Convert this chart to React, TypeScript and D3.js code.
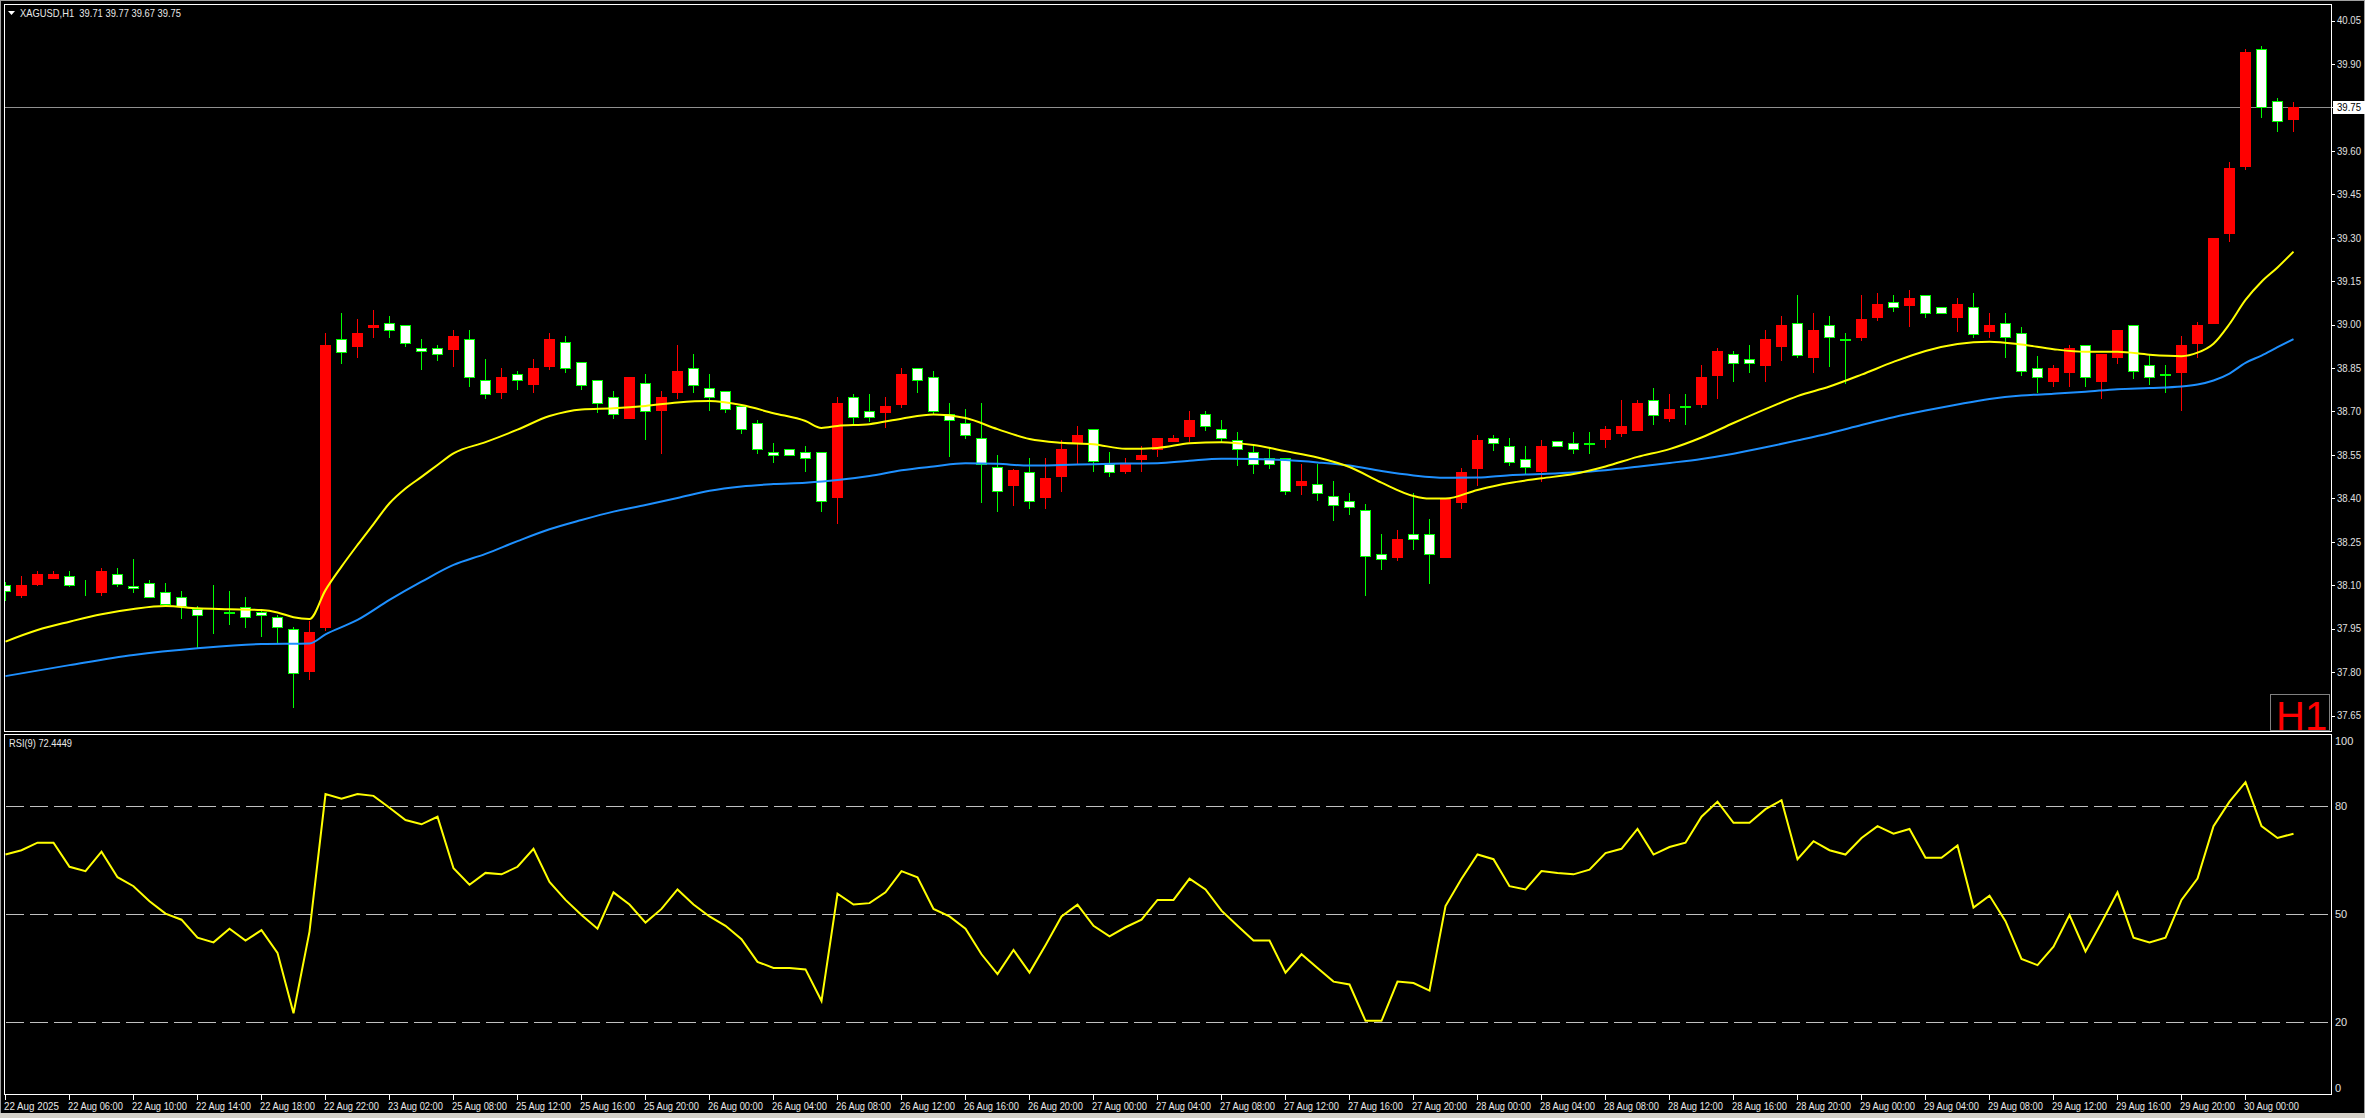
import React from 'react';
import * as d3 from 'd3';

const W = 2365;
const H = 1118;

const opens = [38.100,38.065,38.105,38.126,38.130,38.090,38.076,38.138,38.098,38.106,38.078,38.058,38.018,37.990,38.006,38.026,38.006,37.989,37.947,37.804,37.957,38.949,38.927,38.990,39.007,38.997,38.918,38.918,38.915,38.949,38.807,38.768,38.828,38.796,38.857,38.939,38.870,38.807,38.749,38.678,38.797,38.706,38.768,38.849,38.780,38.769,38.718,38.659,38.559,38.569,38.559,38.559,38.406,38.749,38.700,38.699,38.727,38.849,38.818,38.690,38.659,38.607,38.507,38.446,38.490,38.406,38.478,38.592,38.638,38.518,38.495,38.537,38.570,38.599,38.616,38.690,38.638,38.600,38.559,38.538,38.538,38.447,38.448,38.407,38.390,38.358,38.206,38.198,38.278,38.278,38.198,38.387,38.505,38.607,38.579,38.537,38.494,38.599,38.590,38.590,38.606,38.625,38.636,38.738,38.678,38.718,38.727,38.826,38.897,38.880,38.859,38.926,39.007,38.888,38.997,38.949,38.957,39.027,39.079,39.068,39.101,39.059,39.027,39.059,38.979,39.007,38.970,38.849,38.806,38.837,38.928,38.806,38.889,38.997,38.859,38.828,38.837,38.936,39.006,39.317,39.548,39.950,39.771,39.710];
const highs = [38.110,38.130,38.150,38.150,38.150,38.118,38.158,38.158,38.190,38.118,38.106,38.080,38.028,38.100,38.080,38.059,38.018,37.996,37.957,37.977,38.972,39.041,39.019,39.050,39.029,38.997,38.950,38.929,38.981,38.981,38.881,38.850,38.839,38.881,38.970,38.960,38.870,38.807,38.770,38.818,38.829,38.770,38.929,38.898,38.829,38.769,38.718,38.670,38.591,38.569,38.580,38.559,38.750,38.760,38.760,38.750,38.850,38.849,38.840,38.729,38.708,38.729,38.549,38.500,38.539,38.539,38.601,38.650,38.638,38.560,38.539,38.580,38.608,38.618,38.701,38.701,38.670,38.629,38.580,38.570,38.538,38.518,38.518,38.460,38.418,38.380,38.278,38.290,38.417,38.328,38.397,38.506,38.618,38.618,38.607,38.579,38.601,38.599,38.629,38.629,38.650,38.739,38.739,38.780,38.760,38.760,38.860,38.919,38.908,38.929,38.981,39.029,39.102,39.040,39.029,38.970,39.102,39.109,39.102,39.119,39.101,39.059,39.093,39.110,39.039,39.039,38.990,38.891,38.860,38.929,38.928,38.898,38.981,38.997,38.894,38.860,38.960,39.009,39.299,39.561,39.951,39.962,39.782,39.770];
const lows = [38.050,38.060,38.100,38.125,38.097,38.066,38.066,38.098,38.077,38.058,38.028,37.987,37.884,37.936,37.967,37.957,37.925,37.901,37.678,37.776,37.945,38.868,38.889,38.958,38.958,38.927,38.846,38.877,38.858,38.789,38.747,38.747,38.778,38.768,38.846,38.837,38.778,38.699,38.678,38.678,38.606,38.557,38.747,38.768,38.706,38.699,38.626,38.557,38.526,38.548,38.495,38.357,38.316,38.656,38.668,38.647,38.716,38.768,38.691,38.547,38.607,38.388,38.357,38.377,38.366,38.367,38.425,38.521,38.494,38.478,38.488,38.495,38.547,38.599,38.599,38.637,38.595,38.516,38.488,38.506,38.416,38.416,38.395,38.326,38.347,38.067,38.157,38.188,38.226,38.107,38.198,38.367,38.447,38.568,38.516,38.488,38.460,38.579,38.557,38.557,38.577,38.616,38.636,38.657,38.668,38.657,38.716,38.747,38.805,38.836,38.805,38.877,38.888,38.836,38.857,38.797,38.947,39.017,39.048,38.996,39.027,39.039,38.979,38.958,38.958,38.889,38.827,38.768,38.789,38.789,38.789,38.747,38.868,38.816,38.794,38.768,38.705,38.889,39.006,39.290,39.538,39.718,39.669,39.670];
const closes = [38.080,38.100,38.140,38.140,38.100,38.089,38.149,38.105,38.089,38.058,38.035,38.028,37.996,37.989,38.005,37.989,37.996,37.957,37.796,37.938,38.929,38.906,38.970,38.998,38.980,38.937,38.909,38.897,38.960,38.818,38.759,38.818,38.807,38.850,38.950,38.849,38.790,38.728,38.690,38.818,38.700,38.749,38.840,38.790,38.749,38.707,38.638,38.569,38.548,38.548,38.538,38.390,38.729,38.680,38.680,38.719,38.829,38.807,38.700,38.669,38.617,38.517,38.426,38.498,38.390,38.470,38.570,38.618,38.528,38.490,38.518,38.549,38.608,38.608,38.670,38.649,38.607,38.569,38.517,38.517,38.426,38.460,38.417,38.378,38.369,38.200,38.189,38.259,38.258,38.206,38.397,38.490,38.601,38.590,38.526,38.507,38.580,38.579,38.569,38.589,38.638,38.650,38.729,38.689,38.708,38.717,38.819,38.908,38.868,38.868,38.950,38.998,38.896,38.981,38.958,38.948,39.018,39.071,39.059,39.090,39.039,39.039,39.070,38.968,38.998,38.958,38.838,38.818,38.849,38.918,38.818,38.898,38.981,38.838,38.818,38.827,38.928,38.998,39.299,39.540,39.941,39.750,39.702,39.750];

const maFastIdx = [0,2,4,6,8,10,12,14,16,17,18,19,20,21,22,23,24,25,26,27,28,30,32,34,36,38,40,42,44,46,48,50,51,52,54,56,58,60,62,64,66,68,70,72,74,76,78,80,82,84,86,88,89,90,92,94,96,98,100,102,104,106,108,110,112,114,116,118,120,122,124,126,128,130,132,134,136,137,138,139,140,141,142,143];
const maFast = [37.905,37.945,37.974,38.000,38.018,38.028,38.020,38.017,38.014,38.006,37.989,37.983,38.083,38.164,38.239,38.311,38.383,38.434,38.474,38.515,38.555,38.594,38.637,38.684,38.707,38.711,38.719,38.731,38.736,38.722,38.694,38.667,38.643,38.650,38.656,38.675,38.689,38.677,38.639,38.605,38.592,38.587,38.571,38.574,38.590,38.594,38.584,38.563,38.541,38.508,38.454,38.408,38.399,38.399,38.429,38.453,38.469,38.484,38.510,38.543,38.570,38.610,38.660,38.708,38.753,38.786,38.827,38.871,38.909,38.933,38.941,38.931,38.915,38.906,38.906,38.896,38.891,38.903,38.934,39.002,39.085,39.148,39.197,39.252];
const maSlowIdx = [0,4,8,12,16,19,20,22,24,26,28,30,32,34,36,38,40,42,44,46,48,50,52,54,56,58,60,62,64,66,68,70,72,74,76,78,80,82,84,86,88,90,92,94,96,98,100,102,104,106,108,110,112,114,116,118,120,122,124,126,128,130,132,134,136,137,138,139,140,141,142,143];
const maSlow = [37.786,37.824,37.859,37.882,37.897,37.899,37.930,37.980,38.049,38.112,38.170,38.208,38.252,38.293,38.325,38.354,38.377,38.401,38.426,38.441,38.449,38.454,38.463,38.477,38.497,38.510,38.521,38.519,38.513,38.515,38.518,38.520,38.521,38.530,38.537,38.536,38.532,38.524,38.513,38.494,38.479,38.471,38.472,38.480,38.484,38.489,38.497,38.509,38.522,38.536,38.554,38.576,38.600,38.625,38.653,38.680,38.703,38.724,38.743,38.755,38.761,38.768,38.777,38.781,38.786,38.793,38.807,38.831,38.868,38.893,38.922,38.950];

const rsiValues = [66.6,67.8,69.9,69.9,63.2,62.0,67.4,60.3,57.8,53.6,50.2,48.5,43.5,42.2,46.0,42.7,45.6,39.3,22.5,45.2,83.4,82.1,83.4,82.9,79.6,76.2,75.0,77.1,62.8,58.2,61.5,61.1,63.2,68.2,59.0,54.0,49.8,46.0,56.1,52.7,47.7,51.5,56.9,52.7,49.4,46.8,43.1,36.8,35.1,35.1,34.7,25.9,55.7,52.7,53.1,56.1,62.0,60.3,51.5,49.4,46.0,38.9,33.4,40.1,33.8,41.4,49.4,52.7,46.8,43.9,46.4,48.5,54.0,54.0,59.9,56.9,51.0,46.8,42.7,42.7,33.8,38.9,35.1,31.3,30.5,20.4,20.4,31.3,30.9,28.8,52.3,59.9,66.6,65.3,57.8,56.9,62.0,61.5,61.1,62.4,67.0,68.2,73.7,66.6,68.7,69.9,77.1,81.3,75.4,75.4,79.2,81.7,65.3,70.3,67.8,66.6,71.2,74.5,72.4,73.7,65.7,65.7,69.1,51.9,55.2,48.1,37.6,35.9,41.0,49.8,39.7,47.7,56.1,43.5,42.2,43.5,54.0,59.9,74.5,81.3,86.7,74.5,71.2,72.4];

const priceTicks = [40.05,39.90,39.75,39.60,39.45,39.30,39.15,39.00,38.85,38.70,38.55,38.40,38.25,38.10,37.95,37.80,37.65];
const rsiLevels = [80, 50, 20];
const rsiTickLabels = ['100', '80', '50', '20', '0'];
const rsiTickValues = [100, 80, 50, 20, 0];
const timeLabels = ['22 Aug 2025','22 Aug 06:00','22 Aug 10:00','22 Aug 14:00','22 Aug 18:00','22 Aug 22:00','23 Aug 02:00','25 Aug 08:00','25 Aug 12:00','25 Aug 16:00','25 Aug 20:00','26 Aug 00:00','26 Aug 04:00','26 Aug 08:00','26 Aug 12:00','26 Aug 16:00','26 Aug 20:00','27 Aug 00:00','27 Aug 04:00','27 Aug 08:00','27 Aug 12:00','27 Aug 16:00','27 Aug 20:00','28 Aug 00:00','28 Aug 04:00','28 Aug 08:00','28 Aug 12:00','28 Aug 16:00','28 Aug 20:00','29 Aug 00:00','29 Aug 04:00','29 Aug 08:00','29 Aug 12:00','29 Aug 16:00','29 Aug 20:00','30 Aug 00:00'];
const headerText = 'XAGUSD,H1  39.71 39.77 39.67 39.75';
const rsiText = 'RSI(9) 72.4449';
const lastPrice = 39.75;

const FONT = '"Liberation Sans", Arial, sans-serif';

export default function App() {
  const n = opens.length;
  const x = d3.scaleLinear().domain([0, n - 1]).range([5, 5 + 16 * (n - 1)]);
  const y = d3.scaleLinear().domain([37.65, 40.05]).range([715.5, 20.5]);
  const yr = d3.scaleLinear().domain([0, 100]).range([1094.3, 734.3]);

  const fastPts: [number, number][] = maFastIdx.map((i, k) => [x(i) + 0.5, y(maFast[k])]);
  const slowPts: [number, number][] = maSlowIdx.map((i, k) => [x(i) + 0.5, y(maSlow[k])]);
  const line = d3.line<[number, number]>().x(d => d[0]).y(d => d[1]).curve(d3.curveMonotoneX);
  const rsiLine = d3.line<number>().x((_, i) => x(i) + 0.5).y(d => yr(d));

  const candles = opens.map((o, i) => {
    const c = closes[i], h = highs[i], l = lows[i];
    const cx = Math.round(x(i));
    const bull = c > o;
    const yh = Math.round(y(h)), yl = Math.round(y(l));
    const yo = Math.round(y(o)), yc = Math.round(y(c));
    const wickColor = bull ? '#ff0000' : '#00ff00';
    return (
      <g key={i}>
        <rect x={cx} y={yh} width={1} height={Math.max(1, yl - yh + 1)} fill={wickColor} />
        {bull ? (
          <rect x={cx - 5} y={yc} width={11} height={Math.max(1, yo - yc + 1)} fill="#ff0000" />
        ) : (
          <rect x={cx - 4.5} y={yo + 0.5} width={10} height={Math.max(0, yc - yo)} fill="#ffffff" stroke="#00ff00" strokeWidth={1} />
        )}
      </g>
    );
  });

  const lastY = y(lastPrice);

  return (
    <svg width={W} height={H} style={{ position: 'absolute', left: 0, top: 0, display: 'block', background: '#000' }} fontFamily={FONT}>
      <defs>
        <clipPath id="mainClip"><rect x={5} y={5} width={2326} height={726} /></clipPath>
        <clipPath id="rsiClip"><rect x={5} y={735} width={2326} height={359} /></clipPath>
      </defs>
      <rect x={0} y={0} width={W} height={H} fill="#000" />
      {/* window edges */}
      <rect x={0.5} y={0.5} width={W - 1} height={H - 1} fill="none" stroke="#a0a0a0" strokeWidth={1} />
      <rect x={0} y={1113} width={W} height={5} fill="#d4d0c8" />

      {/* main chart */}
      <g clipPath="url(#mainClip)">
        <line x1={5} x2={2331} y1={Math.round(lastY) + 0.5} y2={Math.round(lastY) + 0.5} stroke="#909090" strokeWidth={1} />
        {candles}
        <path d={line(slowPts) || ''} fill="none" stroke="#1e90ff" strokeWidth={2} />
        <path d={line(fastPts) || ''} fill="none" stroke="#ffff00" strokeWidth={2} />
      </g>
      <rect x={4.5} y={4.5} width={2327} height={727} fill="none" stroke="#ffffff" strokeWidth={1} />

      {/* price axis */}
      {priceTicks.map(p => (
        <g key={p}>
          <line x1={2331} x2={2335} y1={Math.round(y(p)) + 0.5} y2={Math.round(y(p)) + 0.5} stroke="#ffffff" />
          <text x={2337} y={y(p)} dy="0.35em" fontSize={11} fill="#e0e0e0" textLength={24} lengthAdjust="spacingAndGlyphs">{p.toFixed(2)}</text>
        </g>
      ))}
      <rect x={2333} y={Math.round(lastY) - 6} width={32} height={13} fill="#ffffff" />
      <text x={2337} y={lastY} dy="0.35em" fontSize={11} fill="#000" textLength={24} lengthAdjust="spacingAndGlyphs">{lastPrice.toFixed(2)}</text>

      {/* header */}
      <path d="M8,11 L15,11 L11.5,15 Z" fill="#ffffff" />
      <text x={20} y={13} dy="0.35em" fontSize={11} fill="#e8e8e8" textLength={161} lengthAdjust="spacingAndGlyphs" xmlSpace="preserve">{headerText}</text>

      {/* H1 label */}
      <rect x={2270.5} y={694.5} width={59} height={36} fill="none" stroke="#808080" />
      <text x={2276} y={730} fontSize={40} fill="#ff0000" fontFamily='"Liberation Sans", Arial, sans-serif'>H1</text>

      {/* RSI panel */}
      <g clipPath="url(#rsiClip)">
        {rsiLevels.map(v => (
          <line key={v} x1={6} x2={2331} y1={Math.round(yr(v)) + 0.5} y2={Math.round(yr(v)) + 0.5} stroke="#c0c0c0" strokeDasharray="18 6" />
        ))}
        <path d={rsiLine(rsiValues) || ''} fill="none" stroke="#ffff00" strokeWidth={2} />
      </g>
      <rect x={4.5} y={734.5} width={2327} height={360} fill="none" stroke="#ffffff" strokeWidth={1} />
      <text x={9} y={743} dy="0.35em" fontSize={11} fill="#e8e8e8" textLength={63} lengthAdjust="spacingAndGlyphs">{rsiText}</text>
      {rsiTickValues.map((v, k) => {
        const yy = Math.min(Math.max(yr(v), 741), 1088);
        return (
          <text key={v} x={2335} y={yy} dy="0.35em" fontSize={11} fill="#e0e0e0">{rsiTickLabels[k]}</text>
        );
      })}

      {/* time axis */}
      {timeLabels.map((t, k) => {
        const tx = Math.round(x(k * 4));
        return (
          <g key={t}>
            <line x1={tx + 0.5} x2={tx + 0.5} y1={1095} y2={1100} stroke="#ffffff" />
            <text x={tx - 1} y={1106} dy="0.35em" fontSize={11} fill="#e8e8e8" textLength={55} lengthAdjust="spacingAndGlyphs">{t}</text>
          </g>
        );
      })}
    </svg>
  );
}
